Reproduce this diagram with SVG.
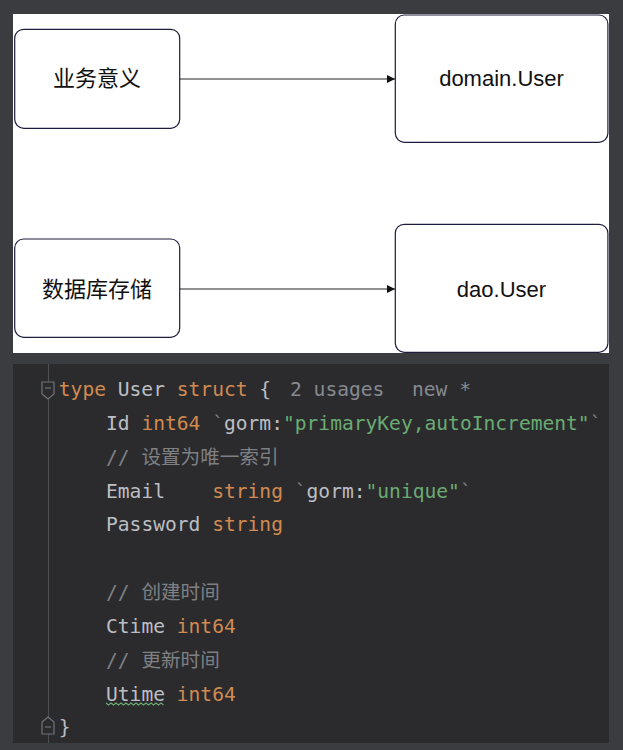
<svg xmlns="http://www.w3.org/2000/svg" width="623" height="750" viewBox="0 0 623 750">
<style>
.box{fill:#ffffff;stroke:#1c1c3c;stroke-width:1.2}
.lbl{font-family:"Liberation Sans","Noto Sans CJK SC",Arial,sans-serif;font-size:22px;fill:#111;text-anchor:middle}
.conn{stroke:#222;stroke-width:1.2;fill:none}
.code{font-family:"DejaVu Sans Mono","Noto Sans CJK SC",monospace;font-size:19.6px;fill:#bcbec4}
.kw{fill:#d18a52}
.str{fill:#6aab73}
.cm{fill:#7f8084}
.hint{fill:#868a91}
.fold{fill:#2b2b2d;stroke:#6f737a;stroke-width:1.2}
</style>
<defs>
<marker id="arr" markerWidth="10" markerHeight="10" refX="8" refY="4" orient="auto" markerUnits="userSpaceOnUse">
<path d="M0,0 L8,4 L0,8 Z" fill="#111"/>
</marker>
</defs>
<rect x="0" y="0" width="623" height="750" fill="#3b3c3f"/>
<rect x="13" y="14" width="596" height="339" fill="#ffffff"/>
<g id="connectors">
<line class="conn" x1="180" y1="79" x2="395" y2="79" marker-end="url(#arr)"/>
<line class="conn" x1="180" y1="289" x2="395" y2="289" marker-end="url(#arr)"/>
</g>
<g id="node-biz">
<rect class="box" x="14.7" y="29.3" width="165" height="99" rx="9"/>
<text class="lbl" x="97" y="86">业务意义</text>
</g>
<g id="node-domain">
<rect class="box" x="395.3" y="15" width="212.6" height="127.3" rx="9"/>
<text class="lbl" x="501.5" y="86">domain.User</text>
</g>
<g id="node-db">
<rect class="box" x="14.7" y="239" width="165" height="98.3" rx="9"/>
<text class="lbl" x="97" y="297">数据库存储</text>
</g>
<g id="node-dao">
<rect class="box" x="395.3" y="224.3" width="212.6" height="128" rx="9"/>
<text class="lbl" x="501.5" y="297">dao.User</text>
</g>
<g id="code-panel">
<rect x="13" y="364" width="596" height="379" fill="#2b2b2d"/>
<line x1="48.5" y1="364" x2="48.5" y2="743" stroke="#4e5054" stroke-width="1"/>
<path class="fold" d="M42,382 L54,382 L54,394 L48,399 L42,394 Z"/>
<line x1="45" y1="388" x2="51" y2="388" stroke="#6f737a" stroke-width="1.2"/>
<path class="fold" d="M48,717 L54,722 L54,734 L42,734 L42,722 Z"/>
<line x1="45" y1="727" x2="51" y2="727" stroke="#6f737a" stroke-width="1.2"/>
<text class="code" x="58.8" y="396" xml:space="preserve"><tspan class="kw">type</tspan> User <tspan class="kw">struct</tspan> {</text>
<text class="code hint" x="290" y="396">2 usages</text>
<text class="code hint" x="412" y="396">new *</text>
<text class="code" x="106" y="430" xml:space="preserve">Id <tspan class="kw">int64</tspan> <tspan class="cm">`</tspan>gorm:<tspan class="str">"primaryKey,autoIncrement"</tspan><tspan class="cm">`</tspan></text>
<text class="code cm" x="106" y="464">// 设置为唯一索引</text>
<text class="code" x="106" y="497.5" xml:space="preserve">Email    <tspan class="kw">string</tspan> <tspan class="cm">`</tspan>gorm:<tspan class="str">"unique"</tspan><tspan class="cm">`</tspan></text>
<text class="code" x="106" y="531" xml:space="preserve">Password <tspan class="kw">string</tspan></text>
<text class="code cm" x="106" y="599">// 创建时间</text>
<text class="code" x="106" y="633" xml:space="preserve">Ctime <tspan class="kw">int64</tspan></text>
<text class="code cm" x="106" y="667">// 更新时间</text>
<text class="code" x="106" y="700.5" xml:space="preserve">Utime <tspan class="kw">int64</tspan></text>
<path d="M106,703 l2.5,2 l2.5,-2 l2.5,2 l2.5,-2 l2.5,2 l2.5,-2 l2.5,2 l2.5,-2 l2.5,2 l2.5,-2 l2.5,2 l2.5,-2 l2.5,2 l2.5,-2 l2.5,2 l2.5,-2 l2.5,2 l2.5,-2 l2.5,2 l2.5,-2 l2.5,2 l2.5,-2 l2.5,2" fill="none" stroke="#6aab73" stroke-width="1.1"/>
<text class="code" x="58.8" y="734">}</text>
</g>
</svg>
